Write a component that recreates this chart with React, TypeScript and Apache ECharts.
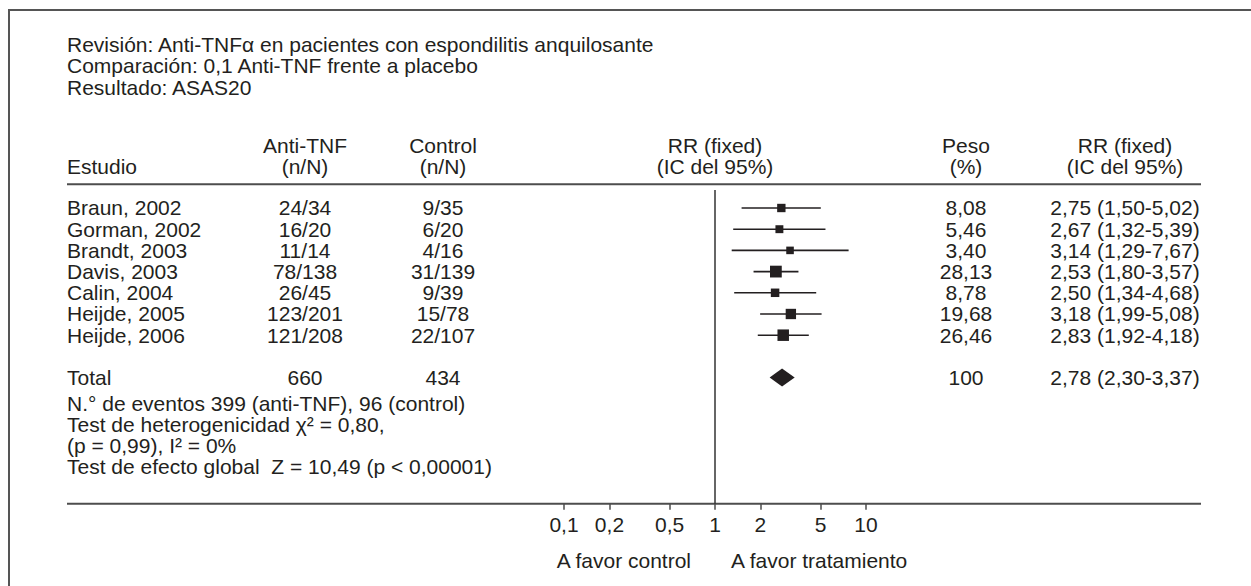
import React, { useEffect, useRef } from "react";
import * as echarts from "echarts";

// ---------- data ----------
const titleLines = [
  "Revisión: Anti-TNFα en pacientes con espondilitis anquilosante",
  "Comparación: 0,1 Anti-TNF frente a placebo",
  "Resultado: ASAS20",
];
const studies = [
  "Braun, 2002",
  "Gorman, 2002",
  "Brandt, 2003",
  "Davis, 2003",
  "Calin, 2004",
  "Heijde, 2005",
  "Heijde, 2006",
];
const antiTnfCounts = ["24/34", "16/20", "11/14", "78/138", "26/45", "123/201", "121/208"];
const controlCounts = ["9/35", "6/20", "4/16", "31/139", "9/39", "15/78", "22/107"];
const weights = [8.08, 5.46, 3.4, 28.13, 8.78, 19.68, 26.46];
const rr = [2.75, 2.67, 3.14, 2.53, 2.5, 3.18, 2.83];
const ciLow = [1.5, 1.32, 1.29, 1.8, 1.34, 1.99, 1.92];
const ciHigh = [5.02, 5.39, 7.67, 3.57, 4.68, 5.08, 4.18];
const totalLabel = "Total";
const totalAnti = "660";
const totalControl = "434";
const totalWeight = "100";
const pooled = [2.78, 2.3, 3.37];
const footerLines = [
  "N.° de eventos 399 (anti-TNF), 96 (control)",
  "Test de heterogenicidad χ² = 0,80,",
  "(p = 0,99), I² = 0%",
  "Test de efecto global  Z = 10,49 (p < 0,00001)",
];
const tickValues = [0.1, 0.2, 0.5, 1, 2, 5, 10];
const tickLabels = ["0,1", "0,2", "0,5", "1", "2", "5", "10"];
const favorLeft = "A favor control";
const favorRight = "A favor tratamiento";

// ---------- style ----------
const FONT = "'Liberation Sans', Arial, Helvetica, sans-serif";
const FS = 21;
const INK = "#231f20";
const RULE = "#4d4d4d";

const fmt = (v: number) => v.toFixed(2).replace(".", ",");

function txt(text: string, x: number, y: number, align: string = "left") {
  return {
    type: "text",
    x,
    y,
    silent: true,
    style: {
      text,
      fontSize: FS,
      fontFamily: FONT,
      fill: INK,
      align,
      verticalAlign: "middle",
      textAlign: align,
      textVerticalAlign: "middle",
    },
  };
}

export default function App() {
  const ref = useRef<HTMLDivElement>(null);

  useEffect(() => {
    if (!ref.current) return;
    const chart = echarts.init(ref.current, undefined, { renderer: "svg" });

    const studyData = studies.map((_, i) => [rr[i], ciLow[i], ciHigh[i], weights[i], i]);
    const totalRow = studies.length + 1;
    const pooledData = [[pooled[0], pooled[1], pooled[2], totalRow]];

    chart.setOption({
      animation: false,
      backgroundColor: "#ffffff",
      grid: { left: 564, right: 385, top: 190, bottom: 82.3 },
      xAxis: {
        type: "log",
        logBase: 10,
        min: 0.1,
        max: 10,
        position: "bottom",
        axisLine: { show: false, onZero: false },
        splitLine: { show: false },
        minorTick: { show: false },
        axisTick: {
          show: true,
          customValues: tickValues,
          length: 6,
          inside: false,
          lineStyle: { color: RULE, width: 1.5 },
        },
        axisLabel: {
          show: true,
          customValues: tickValues,
          margin: 10,
          fontSize: FS,
          fontFamily: FONT,
          color: INK,
          formatter: (v: number) => {
            let best = 0;
            tickValues.forEach((t, k) => {
              if (Math.abs(Math.log10(t) - Math.log10(v)) < Math.abs(Math.log10(tickValues[best]) - Math.log10(v))) best = k;
            });
            return tickLabels[best];
          },
        },
      },
      yAxis: {
        type: "value",
        inverse: true,
        min: -0.849,
        max: 13.95,
        show: false,
      },
      series: [
        {
          type: "custom",
          name: "studies",
          data: studyData,
          encode: { x: [0, 1, 2], y: 4 },
          renderItem: (params: any, api: any) => {
            const row = api.value(4);
            const pLo = api.coord([api.value(1), row]);
            const pHi = api.coord([api.value(2), row]);
            const pC = api.coord([api.value(0), row]);
            const s = 7 + 0.17 * api.value(3);
            return {
              type: "group",
              children: [
                {
                  type: "line",
                  shape: { x1: pLo[0], y1: pLo[1], x2: pHi[0], y2: pHi[1] },
                  style: { stroke: INK, lineWidth: 1.6 },
                },
                {
                  type: "rect",
                  shape: { x: pC[0] - s / 2, y: pC[1] - s / 2, width: s, height: s },
                  style: { fill: INK },
                },
              ],
            };
          },
          markLine: {
            silent: true,
            symbol: "none",
            label: { show: false },
            lineStyle: { color: "#333333", width: 1.5, type: "solid" },
            data: [{ xAxis: 1 }],
          },
        },
        {
          type: "custom",
          name: "pooled",
          data: pooledData,
          encode: { x: [0, 1, 2], y: 3 },
          renderItem: (params: any, api: any) => {
            const row = api.value(3);
            const pLo = api.coord([api.value(1), row]);
            const pHi = api.coord([api.value(2), row]);
            const pC = api.coord([api.value(0), row]);
            const h = 9;
            return {
              type: "polygon",
              shape: {
                points: [
                  [pLo[0], pC[1]],
                  [pC[0], pC[1] - h],
                  [pHi[0], pC[1]],
                  [pC[0], pC[1] + h],
                ],
              },
              style: { fill: INK },
            };
          },
        },
      ],
    });

    // table texts aligned to the chart rows
    const rowY = (r: number) => chart.convertToPixel({ gridIndex: 0 }, [1, r])[1];
    const xOne = chart.convertToPixel({ gridIndex: 0 }, [1, 0])[0];

    const colStudy = 67;
    const colAnti = 305;
    const colControl = 443;
    const colWeight = 966;
    const colRR = 1125;
    const head1 = 145;
    const head2 = 166.5;

    const g: any[] = [];
    // frame (top + left)
    g.push({
      type: "polyline",
      silent: true,
      shape: { points: [[9, 620], [9, 10], [1270, 10]] },
      style: { stroke: "#555555", lineWidth: 2, fill: "none" },
    });
    // rules
    g.push({
      type: "line",
      silent: true,
      shape: { x1: 67, y1: 184.3, x2: 1201, y2: 184.3 },
      style: { stroke: RULE, lineWidth: 2 },
    });
    g.push({
      type: "line",
      silent: true,
      shape: { x1: 67, y1: 503.7, x2: 1201, y2: 503.7 },
      style: { stroke: RULE, lineWidth: 2 },
    });

    titleLines.forEach((t, i) => g.push(txt(t, 67, 44 + i * 21.5)));

    g.push(txt("Estudio", colStudy, head2));
    g.push(txt("Anti-TNF", colAnti, head1, "center"));
    g.push(txt("(n/N)", colAnti, head2, "center"));
    g.push(txt("Control", colControl, head1, "center"));
    g.push(txt("(n/N)", colControl, head2, "center"));
    g.push(txt("RR (fixed)", xOne, head1, "center"));
    g.push(txt("(IC del 95%)", xOne, head2, "center"));
    g.push(txt("Peso", colWeight, head1, "center"));
    g.push(txt("(%)", colWeight, head2, "center"));
    g.push(txt("RR (fixed)", colRR, head1, "center"));
    g.push(txt("(IC del 95%)", colRR, head2, "center"));

    studies.forEach((s, i) => {
      const y = rowY(i);
      g.push(txt(s, colStudy, y));
      g.push(txt(antiTnfCounts[i], colAnti, y, "center"));
      g.push(txt(controlCounts[i], colControl, y, "center"));
      g.push(txt(fmt(weights[i]), colWeight, y, "center"));
      g.push(txt(`${fmt(rr[i])} (${fmt(ciLow[i])}-${fmt(ciHigh[i])})`, colRR, y, "center"));
    });

    const ty = rowY(totalRow);
    g.push(txt(totalLabel, colStudy, ty));
    g.push(txt(totalAnti, colAnti, ty, "center"));
    g.push(txt(totalControl, colControl, ty, "center"));
    g.push(txt(totalWeight, colWeight, ty, "center"));
    g.push(txt(`${fmt(pooled[0])} (${fmt(pooled[1])}-${fmt(pooled[2])})`, colRR, ty, "center"));

    footerLines.forEach((t, i) => g.push(txt(t, colStudy, 403 + i * 21)));

    g.push(txt(favorLeft, xOne - 24, 560, "right"));
    g.push(txt(favorRight, xOne + 16, 560, "left"));

    chart.setOption({ graphic: { elements: g } });

    return () => chart.dispose();
  }, []);

  return (
    <div
      ref={ref}
      style={{ position: "absolute", left: 0, top: 0, width: 1251, height: 586, background: "#fff" }}
    />
  );
}
